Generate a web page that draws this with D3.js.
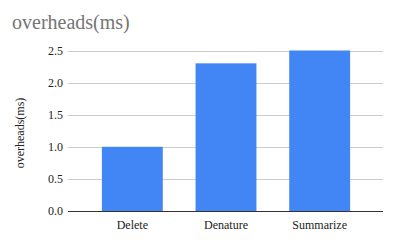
<!DOCTYPE html>
<html><head><meta charset="utf-8">
<script src="https://cdn.jsdelivr.net/npm/d3@7"></script>
<style>body{margin:0;background:#fff}svg{display:block}</style>
</head><body>
<script>
const categories = ["Delete", "Denature", "Summarize"];
const values = [1.0, 2.3, 2.5];
const yTicks = [0, 0.5, 1.0, 1.5, 2.0, 2.5];
const title = "overheads(ms)";
const yTitle = "overheads(ms)";

const W = 395, H = 244;
const svg = d3.select("body").append("svg").attr("width", W).attr("height", H);
const font = "Liberation Serif, Times New Roman, serif";

const x = d3.scaleBand().domain(categories).range([85.5, 366.5]).paddingInner(0.35).paddingOuter(0.175);
const y = d3.scaleLinear().domain([0, 2.5]).range([211, 50.5]);
const left = 68, right = 383;

svg.append("text").attr("x", 12).attr("y", 29).text(title)
  .style("font-family", font).attr("font-size", 20).attr("fill", "#757575");

const g = svg.append("g");
g.selectAll(".grid").data(yTicks.filter(d => d > 0)).enter().append("line")
  .attr("x1", left).attr("x2", right)
  .attr("y1", d => Math.round(y(d)) + 0.5).attr("y2", d => Math.round(y(d)) + 0.5)
  .attr("stroke", "#cccccc").attr("stroke-width", 1);

g.selectAll(".ytick").data(yTicks).enter().append("text")
  .attr("x", 63).attr("y", d => y(d) + 4).attr("text-anchor", "end")
  .style("font-family", font).attr("font-size", 12).attr("fill", "#222")
  .text(d => d.toFixed(1));

g.selectAll(".bar").data(values).enter().append("rect")
  .attr("x", (d, i) => x(categories[i])).attr("width", x.bandwidth())
  .attr("y", d => y(d)).attr("height", d => y(0) - y(d))
  .attr("fill", "#4285f4");

g.append("line").attr("x1", left).attr("x2", right)
  .attr("y1", Math.round(y(0)) + 0.5).attr("y2", Math.round(y(0)) + 0.5)
  .attr("stroke", "#333").attr("stroke-width", 1);

g.selectAll(".xlab").data(categories).enter().append("text")
  .attr("x", d => x(d) + x.bandwidth() / 2).attr("y", 229).attr("text-anchor", "middle")
  .style("font-family", font).attr("font-size", 12).attr("fill", "#222").text(d => d);

svg.append("text").attr("transform", "translate(24,133) rotate(-90)")
  .attr("text-anchor", "middle").style("font-family", font).attr("font-size", 12)
  .attr("fill", "#222").text(yTitle);
</script>
</body></html>
